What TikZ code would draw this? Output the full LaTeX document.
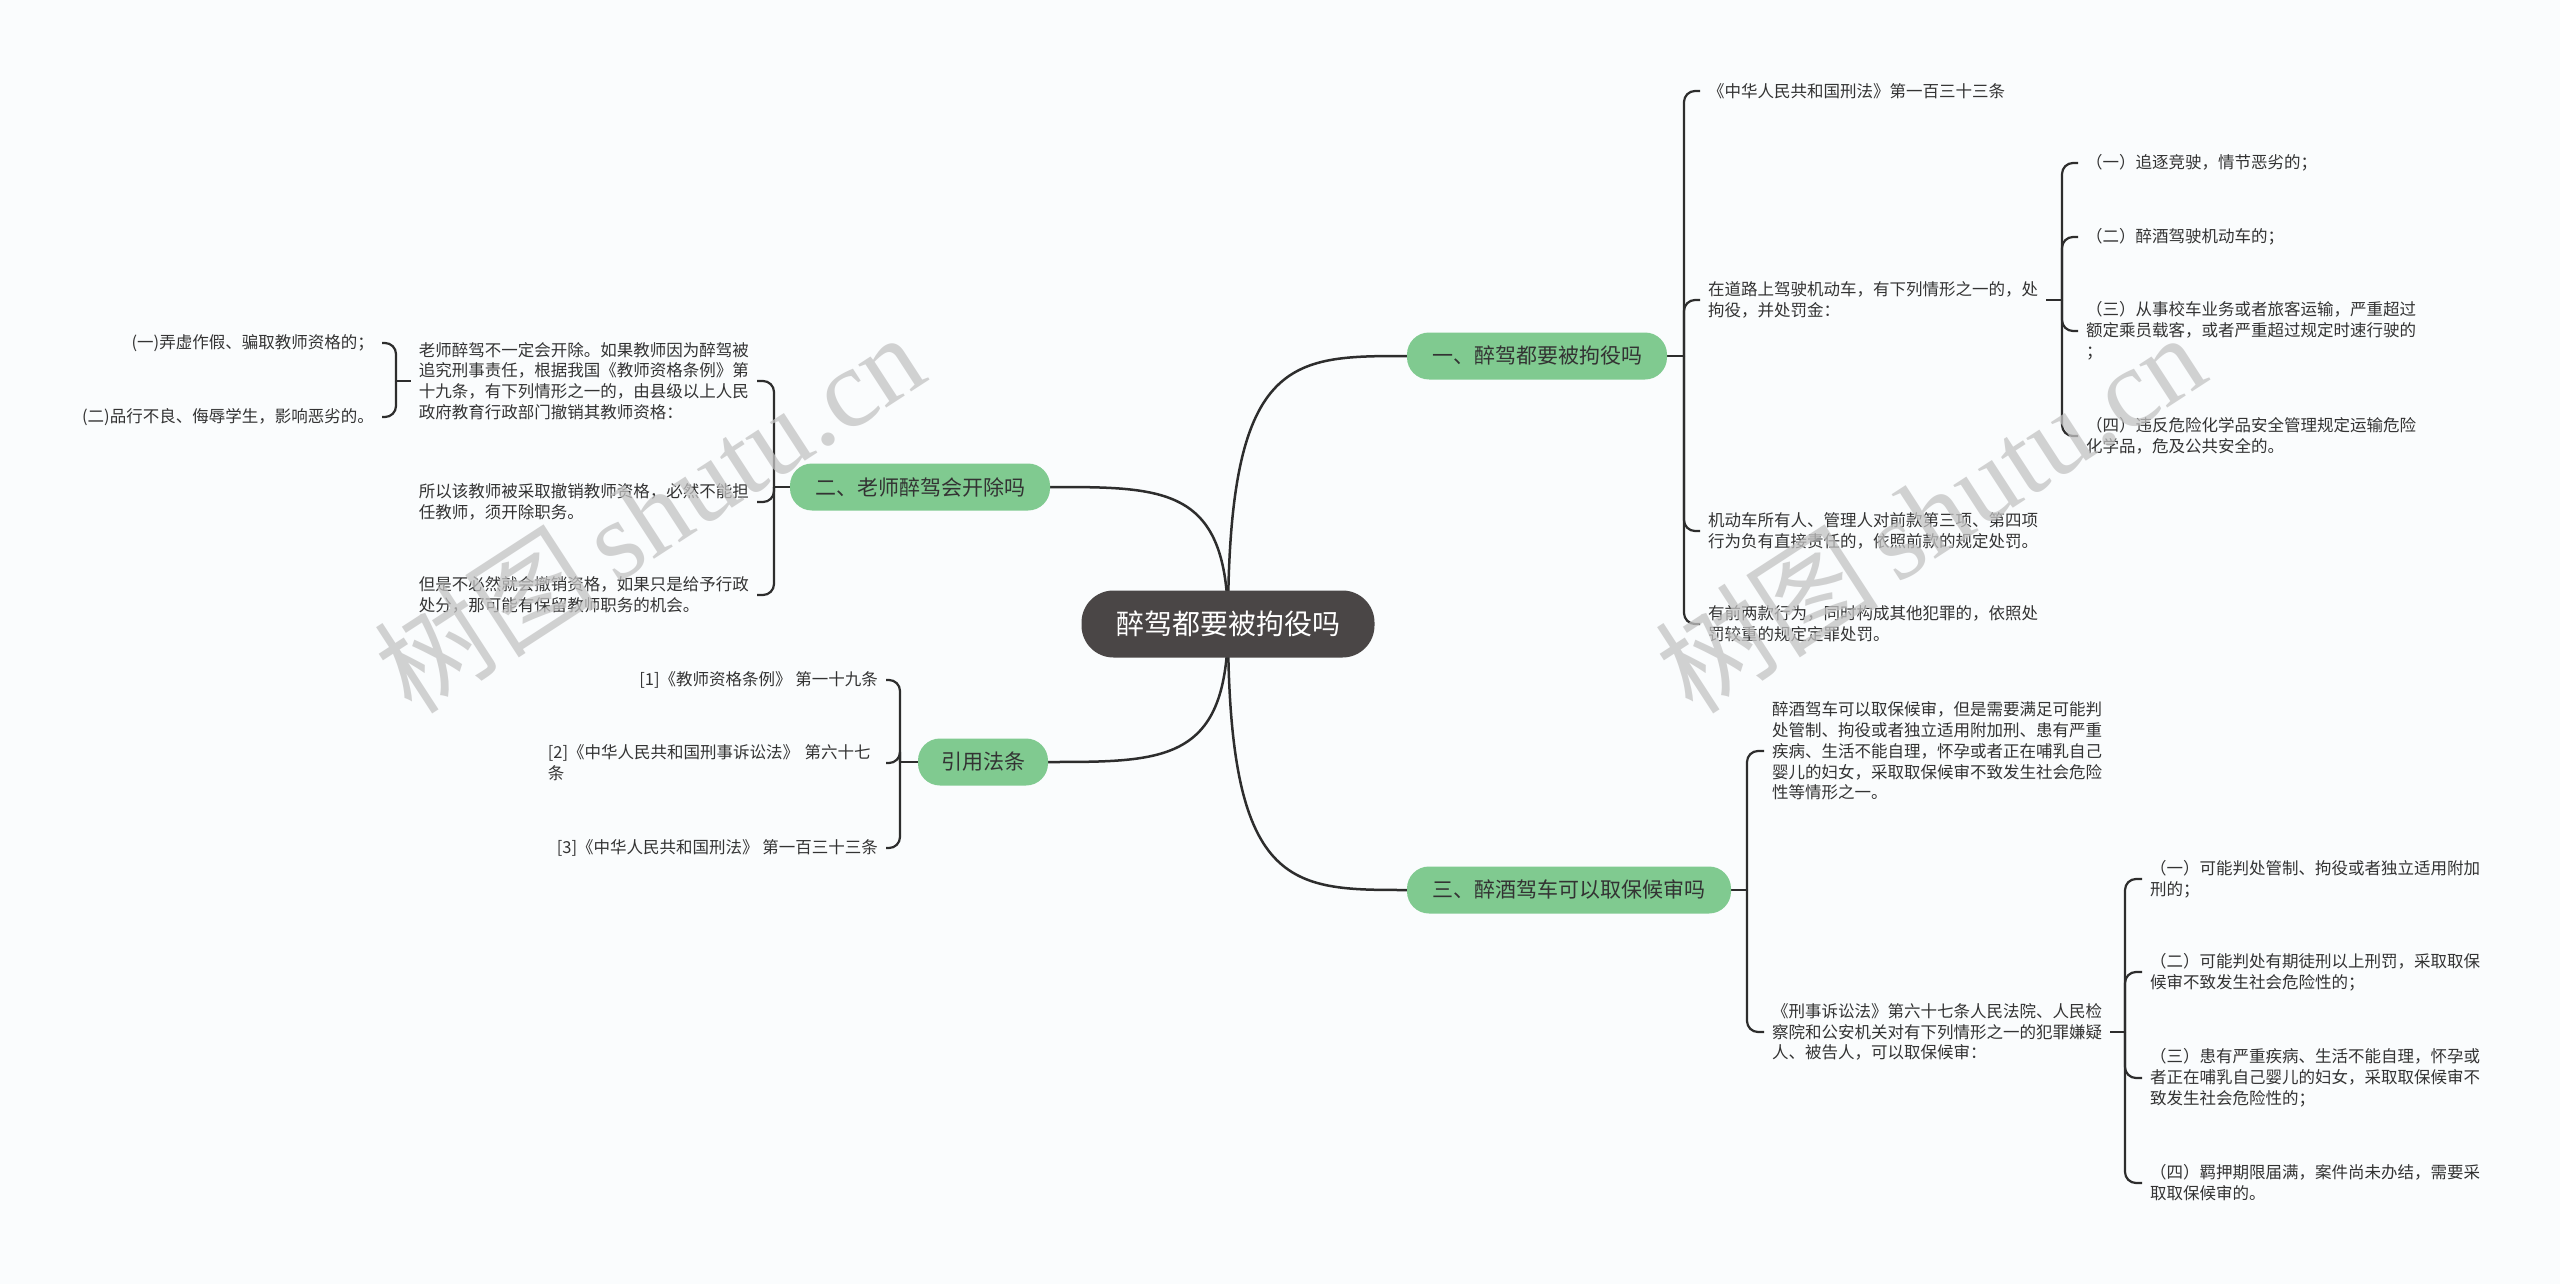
\documentclass[tikz,border=0pt]{standalone}
\usepackage{fontspec}
\setmainfont{Noto Sans CJK SC}
\newfontfamily\wmlat{Liberation Serif}
\usetikzlibrary{backgrounds}
\definecolor{bgc}{RGB}{250,252,253}
\definecolor{rootc}{RGB}{74,70,70}
\definecolor{greenc}{RGB}{128,202,144}
\definecolor{txtc}{RGB}{51,51,51}
\definecolor{linec}{RGB}{45,45,45}
\definecolor{wmc}{RGB}{195,195,195}
\begin{document}
\begin{tikzpicture}[x=1pt,y=-1pt,
 rootbox/.style={fill=rootc, text=white, font=\fontsize{28}{34}\selectfont, minimum width=293pt, minimum height=67pt, rounded corners=32pt, inner sep=0pt},
 branchbox/.style={fill=greenc, text=txtc, font=\fontsize{21}{25}\selectfont, minimum height=47pt, rounded corners=22pt, inner sep=0pt},
 leaf/.style={text=txtc, font=\fontsize{16.5}{20.8}\selectfont, align=left, inner xsep=8pt, inner ysep=2pt},
 leafr/.style={leaf, align=right},
 mainline/.style={draw=linec, line width=2.5pt},
 conn/.style={draw=linec, line width=2.2pt, rounded corners=11pt},
 wm/.style={text=wmc, text opacity=0.75, font=\fontsize{112}{112}\selectfont, rotate=33, inner sep=0pt}
]
\useasboundingbox (0,0) rectangle (2560,1284);

% root and branches
\node[rootbox] (root) at (1228,624) {醉驾都要被拘役吗};
\node[branchbox, minimum width=260pt] (b1) at (1537,356) {一、醉驾都要被拘役吗};
\node[branchbox, minimum width=260pt] (b2) at (920,487) {二、老师醉驾会开除吗};
\node[branchbox, minimum width=130pt] (b3) at (983,762) {引用法条};
\node[branchbox, minimum width=324pt] (b4) at (1569,890) {三、醉酒驾车可以取保候审吗};

% branch 1 leaves
\node[leaf, anchor=west] (l1a) at (1700,91) {《中华人民共和国刑法》第一百三十三条};
\node[leaf, anchor=west] (l1b) at (1700,300) {在道路上驾驶机动车，有下列情形之一的，处\\拘役，并处罚金：};
\node[leaf, anchor=west] (l1c) at (1700,531) {机动车所有人、管理人对前款第三项、第四项\\行为负有直接责任的，依照前款的规定处罚。};
\node[leaf, anchor=west] (l1d) at (1700,624) {有前两款行为，同时构成其他犯罪的，依照处\\罚较重的规定定罪处罚。};
\node[leaf, anchor=west] (l1b1) at (2078,163) {（一）追逐竞驶，情节恶劣的；};
\node[leaf, anchor=west] (l1b2) at (2078,237) {（二）醉酒驾驶机动车的；};
\node[leaf, anchor=west] (l1b3) at (2078,331) {（三）从事校车业务或者旅客运输，严重超过\\额定乘员载客，或者严重超过规定时速行驶的\\；};
\node[leaf, anchor=west] (l1b4) at (2078,436) {（四）违反危险化学品安全管理规定运输危险\\化学品，危及公共安全的。};

% branch 2 leaves
\node[leaf, anchor=east] (l2a) at (757,381) {老师醉驾不一定会开除。如果教师因为醉驾被\\追究刑事责任，根据我国《教师资格条例》第\\十九条，有下列情形之一的，由县级以上人民\\政府教育行政部门撤销其教师资格：};
\node[leaf, anchor=east] (l2b) at (757,502) {所以该教师被采取撤销教师资格，必然不能担\\任教师，须开除职务。};
\node[leaf, anchor=east] (l2c) at (757,595) {但是不必然就会撤销资格，如果只是给予行政\\处分，那可能有保留教师职务的机会。};
\node[leafr, anchor=east] (l2a1) at (382,343) {(一)弄虚作假、骗取教师资格的；};
\node[leafr, anchor=east] (l2a2) at (382,417) {(二)品行不良、侮辱学生，影响恶劣的。};

% branch 3 leaves
\node[leafr, anchor=east] (l3a) at (886,680) {[1]《教师资格条例》 第一十九条};
\node[leaf, anchor=east, text width=330pt] (l3b) at (886,763) {[2]《中华人民共和国刑事诉讼法》 第六十七\\条};
\node[leafr, anchor=east] (l3c) at (886,848) {[3]《中华人民共和国刑法》 第一百三十三条};

% branch 4 leaves
\node[leaf, anchor=west] (l4a) at (1764,751) {醉酒驾车可以取保候审，但是需要满足可能判\\处管制、拘役或者独立适用附加刑、患有严重\\疾病、生活不能自理，怀孕或者正在哺乳自己\\婴儿的妇女，采取取保候审不致发生社会危险\\性等情形之一。};
\node[leaf, anchor=west] (l4b) at (1764,1032) {《刑事诉讼法》第六十七条人民法院、人民检\\察院和公安机关对有下列情形之一的犯罪嫌疑\\人、被告人，可以取保候审：};
\node[leaf, anchor=west] (l4b1) at (2142,879) {（一）可能判处管制、拘役或者独立适用附加\\刑的；};
\node[leaf, anchor=west] (l4b2) at (2142,972) {（二）可能判处有期徒刑以上刑罚，采取取保\\候审不致发生社会危险性的；};
\node[leaf, anchor=west] (l4b3) at (2142,1078) {（三）患有严重疾病、生活不能自理，怀孕或\\者正在哺乳自己婴儿的妇女，采取取保候审不\\致发生社会危险性的；};
\node[leaf, anchor=west] (l4b4) at (2142,1183) {（四）羁押期限届满，案件尚未办结，需要采\\取取保候审的。};

% spine coordinates
\coordinate (s1) at (1684,356);
\coordinate (s1b) at (2062,300);
\coordinate (s2) at (774,487);
\coordinate (s2a) at (396,381);
\coordinate (s3) at (900,762);
\coordinate (s4) at (1747,890);
\coordinate (s4b) at (2125,1032);

\begin{scope}[on background layer]
\fill[bgc] (0,0) rectangle (2560,1284);
\draw[mainline] (root.center) .. controls (1228,356) and (1290,356) .. (b1.west);
\draw[mainline] (root.center) .. controls (1228,487) and (1166,487) .. (b2.east);
\draw[mainline] (root.center) .. controls (1228,762) and (1166,762) .. (b3.east);
\draw[mainline] (root.center) .. controls (1228,890) and (1290,890) .. (b4.west);

\draw[conn] (b1.east) -- (s1);
\foreach \c in {l1a,l1b,l1c,l1d} \draw[conn] (s1) |- (\c.west);
\draw[conn] (l1b.east) -- (s1b);
\foreach \c in {l1b1,l1b2,l1b3,l1b4} \draw[conn] (s1b) |- (\c.west);

\draw[conn] (b2.west) -- (s2);
\foreach \c in {l2a,l2b,l2c} \draw[conn] (s2) |- (\c.east);
\draw[conn] (l2a.west) -- (s2a);
\foreach \c in {l2a1,l2a2} \draw[conn] (s2a) |- (\c.east);

\draw[conn] (b3.west) -- (s3);
\foreach \c in {l3a,l3b,l3c} \draw[conn] (s3) |- (\c.east);

\draw[conn] (b4.east) -- (s4);
\foreach \c in {l4a,l4b} \draw[conn] (s4) |- (\c.west);
\draw[conn] (l4b.east) -- (s4b);
\foreach \c in {l4b1,l4b2,l4b3,l4b4} \draw[conn] (s4b) |- (\c.west);
\end{scope}

% watermarks
\node[wm] (wm1) at (649,512) {树图\,{\wmlat shutu.cn}};
\node[wm] (wm2) at (1930,512) {树图\,{\wmlat shutu.cn}};
\end{tikzpicture}
\end{document}
